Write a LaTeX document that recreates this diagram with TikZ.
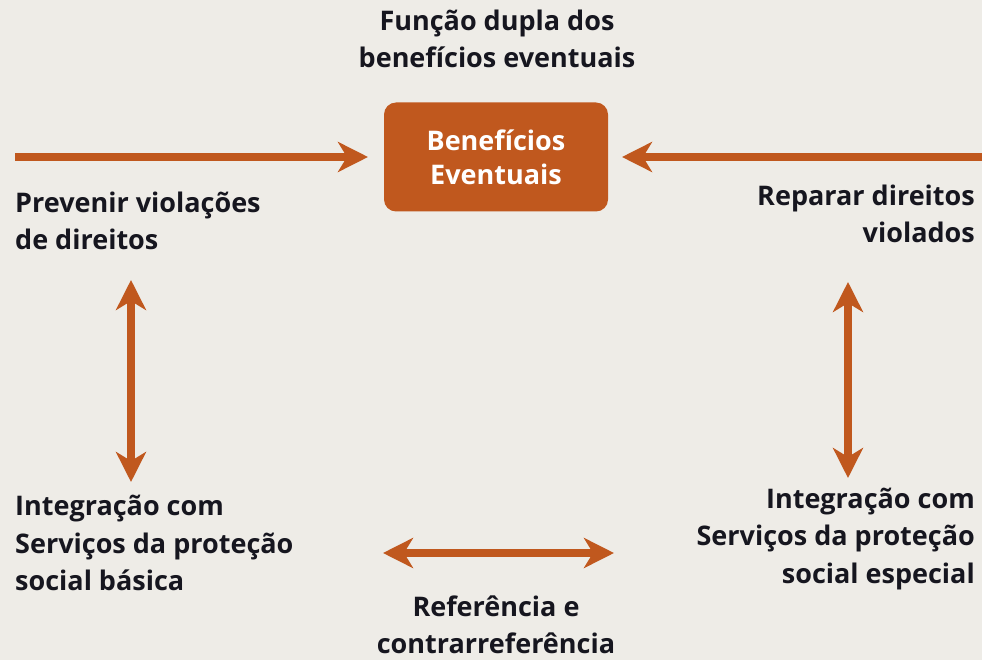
\documentclass[tikz,border=0pt]{standalone}
\usepackage{fontspec}
\setmainfont{Open Sans}
\usetikzlibrary{arrows.meta}
\definecolor{bg}{HTML}{EEECE7}
\definecolor{rust}{HTML}{C0581E}
\definecolor{ink}{HTML}{16161F}
\tikzset{
  lbl/.style={inner sep=0pt, text=ink, font=\fontsize{27}{37.5}\selectfont\bfseries},
  conn/.style={draw=rust, line width=8pt, {Stealth[length=30pt,width=30pt,inset=9pt]}-{Stealth[length=30pt,width=30pt,inset=9pt]}},
  oneway/.style={draw=rust, line width=8pt, -{Stealth[length=30pt,width=30pt,inset=9pt]}},
  mainbox/.style={fill=rust, rounded corners=12pt, minimum width=224pt, minimum height=109pt, inner sep=0pt, text=white, align=center, font=\fontsize{27}{34}\selectfont\bfseries}
}
\begin{document}
\begin{tikzpicture}[x=1pt,y=-1pt]
\fill[bg] (0,0) rectangle (982,660);
\useasboundingbox (0,0) rectangle (982,660);
\node[lbl, align=center] (title) at (497,39) {Função dupla dos\\benefícios eventuais};
\node[mainbox] (box) at (496,157) {Benefícios\\Eventuais};
\coordinate (lstart) at (15,157);
\coordinate (rstart) at (982,157);
\coordinate (lend) at (368,157);
\coordinate (rend) at (622,157);
\draw[oneway] (lstart) -- (lend);
\draw[oneway] (rstart) -- (rend);
\node[lbl, align=left, anchor=west] (prev) at (15,221) {Prevenir violações\\de direitos};
\node[lbl, align=right, anchor=east] (rep) at (975,214) {Reparar direitos\\violados};
\coordinate (lv1) at (131,280);
\coordinate (lv2) at (131,482);
\coordinate (rv1) at (848,282);
\coordinate (rv2) at (848,478);
\draw[conn] (lv1) -- (lv2);
\draw[conn] (rv1) -- (rv2);
\node[lbl, align=left, anchor=west] (basica) at (15,543) {Integração com\\Serviços da proteção\\social básica};
\node[lbl, align=right, anchor=east] (especial) at (975,539) {Integração com\\Serviços da proteção\\social especial};
\coordinate (h1) at (383,553);
\coordinate (h2) at (614,553);
\draw[conn] (h1) -- (h2);
\node[lbl, align=center] (ref) at (496,625) {Referência e\\contrarreferência};
\end{tikzpicture}
\end{document}
